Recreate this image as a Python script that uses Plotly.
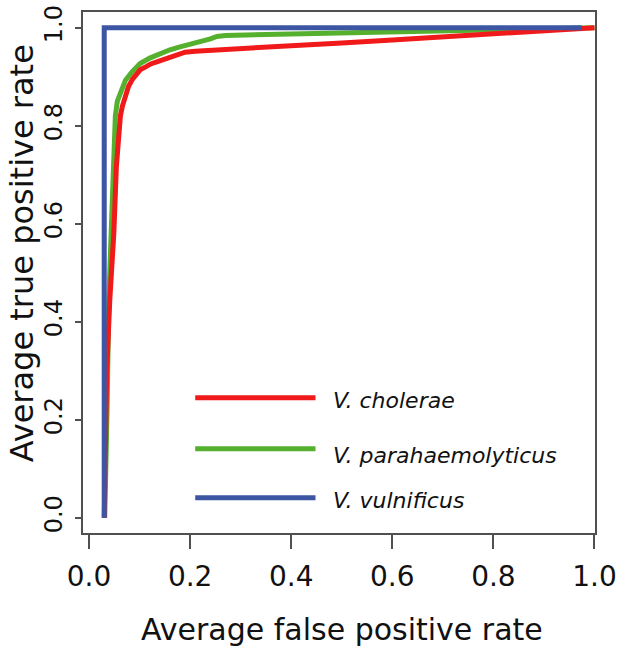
import plotly.graph_objects as go

# ---- data ----
cholerae_fpr = [0.030, 0.032, 0.035, 0.041, 0.049, 0.054, 0.059, 0.062, 0.066, 0.072, 0.078, 0.086,
                0.094, 0.101, 0.112, 0.122, 0.134, 0.150, 0.162, 0.174, 0.190, 0.210, 0.250, 0.300,
                0.400, 0.500, 0.600, 0.700, 0.800, 0.900, 0.975, 1.000]
cholerae_tpr = [0.000, 0.150, 0.300, 0.444, 0.581, 0.716, 0.785, 0.820, 0.840, 0.858, 0.880, 0.895,
                0.905, 0.914, 0.920, 0.926, 0.930, 0.936, 0.940, 0.944, 0.950, 0.952, 0.954, 0.957,
                0.963, 0.969, 0.975, 0.981, 0.987, 0.993, 0.998, 1.000]

para_fpr = [0.031, 0.034, 0.036, 0.039, 0.043, 0.047, 0.049, 0.052, 0.056, 0.063, 0.072, 0.085,
            0.101, 0.120, 0.141, 0.160, 0.180, 0.200, 0.220, 0.240, 0.253, 0.270, 0.350, 0.450,
            0.600, 0.750, 0.900, 0.970, 1.000]
para_tpr = [0.000, 0.100, 0.240, 0.444, 0.580, 0.716, 0.771, 0.820, 0.850, 0.872, 0.893, 0.910,
            0.927, 0.938, 0.948, 0.955, 0.961, 0.966, 0.971, 0.977, 0.982, 0.984, 0.986, 0.988,
            0.991, 0.994, 0.997, 1.000, 1.000]

vuln_fpr = [0.030, 0.030, 0.975]
vuln_tpr = [0.000, 1.000, 1.000]

series_names = ["V. cholerae", "V. parahaemolyticus", "V. vulnificus"]
series_colors = ["#F01A1A", "#55B02E", "#3C56A3"]
tick_vals = [0.0, 0.2, 0.4, 0.6, 0.8, 1.0]
tick_text = ["0.0", "0.2", "0.4", "0.6", "0.8", "1.0"]
x_title = "Average false positive rate"
y_title = "Average true positive rate"

# legend placement (data coords)
legend_x = [0.21, 0.448]
legend_line_y = [0.245, 0.141, 0.041]
legend_text_y = [0.240, 0.127, 0.036]
legend_text_x = 0.479

FONT = "DejaVu Sans"

fig = go.Figure()
# draw order: green, red, blue (red shows past the blue line end)
for fx, fy, c in [(para_fpr, para_tpr, series_colors[1]),
                  (cholerae_fpr, cholerae_tpr, series_colors[0]),
                  (vuln_fpr, vuln_tpr, series_colors[2])]:
    fig.add_trace(go.Scatter(x=fx, y=fy, mode="lines", line=dict(color=c, width=5),
                             showlegend=False, hoverinfo="skip"))

for name, c, ly, ty in zip(series_names, series_colors, legend_line_y, legend_text_y):
    fig.add_trace(go.Scatter(x=legend_x, y=[ly, ly], mode="lines",
                             line=dict(color=c, width=5), showlegend=False, hoverinfo="skip"))
    fig.add_annotation(x=legend_text_x, y=ty, xref="x", yref="y", text="<i>" + name + "</i>",
                       showarrow=False, xanchor="left", yanchor="middle",
                       font=dict(family=FONT, size=22, color="#111111"))

# axis titles
fig.add_annotation(x=0.506, y=-0.186, xref="paper", yref="paper", text=x_title,
                   showarrow=False, xanchor="center", yanchor="middle",
                   font=dict(family=FONT, size=30, color="#111111"))
fig.add_annotation(x=-0.119, y=0.537, xref="paper", yref="paper", text=y_title,
                   showarrow=False, xanchor="center", yanchor="middle", textangle=-90,
                   font=dict(family=FONT, size=32, color="#111111"))

fig.update_layout(
    width=634, height=648,
    margin=dict(l=83, r=39, t=12, b=115),
    paper_bgcolor="white", plot_bgcolor="white",
    font=dict(family=FONT, color="#111111"),
)
fig.update_xaxes(
    range=[-0.012, 1.001], tickvals=tick_vals, ticktext=tick_text, automargin=False,
    showgrid=False, zeroline=False, showline=True, mirror=True,
    linecolor="#505050", linewidth=1.5, ticks="outside", ticklen=14,
    tickcolor="#505050", tickwidth=1.5, ticklabelstandoff=4,
    tickfont=dict(family=FONT, size=28, color="#111111"),
)
fig.update_yaxes(
    range=[-0.031, 1.032], tickvals=tick_vals, ticktext=tick_text, tickangle=-90, automargin=False,
    showgrid=False, zeroline=False, showline=True, mirror=True,
    linecolor="#505050", linewidth=1.5, ticks="outside", ticklen=6,
    tickcolor="#505050", tickwidth=1.5, ticklabelstandoff=4,
    tickfont=dict(family=FONT, size=24, color="#111111"),
)

fig.write_html("out.html", config={"displayModeBar": False},
               post_script="document.body.style.margin='0';document.body.style.padding='0';")
